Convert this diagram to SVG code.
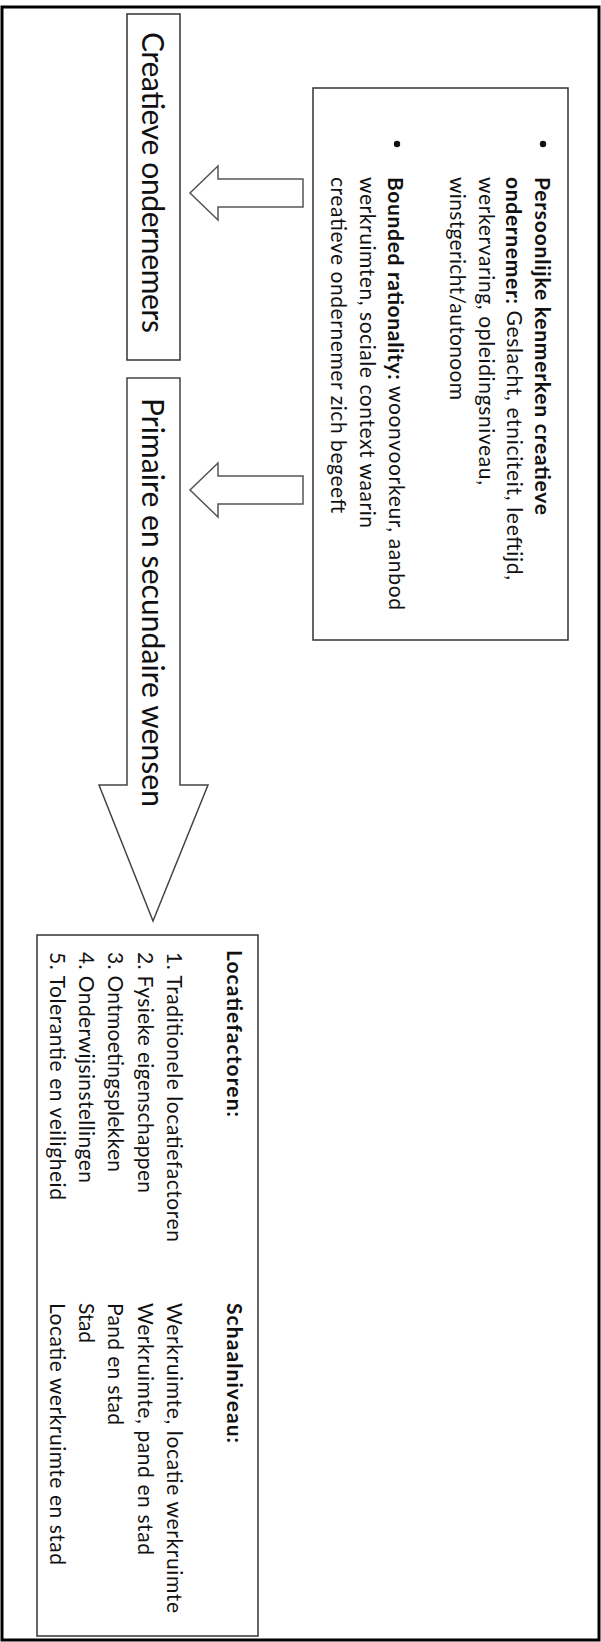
<svg xmlns="http://www.w3.org/2000/svg" width="601" height="1642" viewBox="0 0 601 1642">
<style>
.box{fill:#fff;stroke:#333;stroke-width:1.5}
.arr{fill:#fff;stroke:#555;stroke-width:1.5;stroke-linejoin:miter}
text{font-family:Lato,"Open Sans","Liberation Sans",sans-serif;fill:#111;dominant-baseline:central}
.big{font-size:30px}
.t{font-size:21px}
.b{font-weight:bold}
</style>
<rect x="2" y="7" width="597" height="1633" fill="#fff" stroke="#000" stroke-width="3"/>
<g id="connectors">
<path class="arr" d="M303,179 L218,179 L218,166 L190,193 L218,220 L218,207 L303,207 Z"/>
<path class="arr" d="M303,476 L218,476 L218,463 L190,490 L218,517 L218,504 L303,504 Z"/>
</g>
<g id="node-creatieve">
<rect class="box" x="127" y="14" width="53" height="346"/>
<text class="big" transform="translate(154,32) rotate(90)" textLength="301" lengthAdjust="spacing">Creatieve ondernemers</text>
</g>
<g id="node-wensen">
<path class="arr" style="stroke:#444" d="M127,378 L180,378 L180,785 L208,785 L153,921 L99,785 L127,785 Z"/>
<text class="big" transform="translate(154,398) rotate(90)" textLength="409" lengthAdjust="spacing">Primaire en secundaire wensen</text>
</g>
<g id="node-kenmerken">
<rect class="box" x="313" y="88" width="255" height="552"/>
<circle cx="543" cy="144" r="3.2" fill="#111"/>
<circle cx="397" cy="144" r="3.2" fill="#111"/>
<text class="t b" transform="translate(543,177) rotate(90)" textLength="338" lengthAdjust="spacing">Persoonlijke kenmerken creatieve</text>
<text class="t" transform="translate(515,177) rotate(90)" textLength="403" lengthAdjust="spacing"><tspan class="b">ondernemer:</tspan> Geslacht, etniciteit, leeftijd,</text>
<text class="t" transform="translate(487,177) rotate(90)" textLength="308" lengthAdjust="spacing">werkervaring, opleidingsniveau,</text>
<text class="t" transform="translate(458,177) rotate(90)" textLength="223" lengthAdjust="spacing">winstgericht/autonoom</text>
<text class="t" transform="translate(397,177) rotate(90)" textLength="433" lengthAdjust="spacing"><tspan class="b">Bounded rationality:</tspan> woonvoorkeur, aanbod</text>
<text class="t" transform="translate(368,177) rotate(90)" textLength="351" lengthAdjust="spacing">werkruimten, sociale context waarin</text>
<text class="t" transform="translate(339,177) rotate(90)" textLength="336" lengthAdjust="spacing">creatieve ondernemer zich begeeft</text>
</g>
<g id="node-locatiefactoren">
<rect class="box" x="37" y="935" width="221" height="701"/>
<text class="t b" transform="translate(235,950) rotate(90)" textLength="167" lengthAdjust="spacing">Locatiefactoren:</text>
<text class="t" transform="translate(175,952) rotate(90)" textLength="290" lengthAdjust="spacing">1. Traditionele locatiefactoren</text>
<text class="t" transform="translate(146,952) rotate(90)" textLength="241" lengthAdjust="spacing">2. Fysieke eigenschappen</text>
<text class="t" transform="translate(116,952) rotate(90)" textLength="220" lengthAdjust="spacing">3. Ontmoetingsplekken</text>
<text class="t" transform="translate(87,952) rotate(90)" textLength="231" lengthAdjust="spacing">4. Onderwijsinstellingen</text>
<text class="t" transform="translate(58,952) rotate(90)" textLength="248" lengthAdjust="spacing">5. Tolerantie en veiligheid</text>
<text class="t b" transform="translate(235,1303) rotate(90)" textLength="140" lengthAdjust="spacing">Schaalniveau:</text>
<text class="t" transform="translate(175,1303) rotate(90)" textLength="310" lengthAdjust="spacing">Werkruimte, locatie werkruimte</text>
<text class="t" transform="translate(146,1303) rotate(90)" textLength="252" lengthAdjust="spacing">Werkruimte, pand en stad</text>
<text class="t" transform="translate(116,1303) rotate(90)" textLength="122" lengthAdjust="spacing">Pand en stad</text>
<text class="t" transform="translate(87,1303) rotate(90)" textLength="40" lengthAdjust="spacing">Stad</text>
<text class="t" transform="translate(58,1303) rotate(90)" textLength="262" lengthAdjust="spacing">Locatie werkruimte en stad</text>
</g>
</svg>
